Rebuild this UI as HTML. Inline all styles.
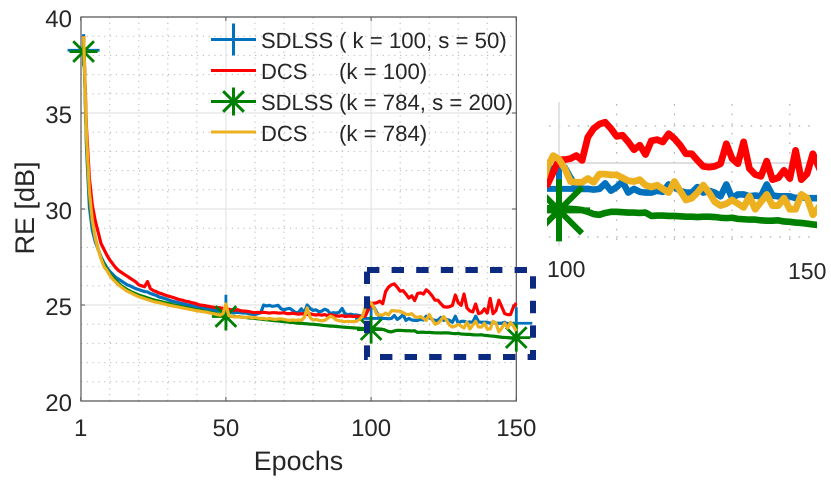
<!DOCTYPE html>
<html>
<head>
<meta charset="utf-8">
<style>
html,body{margin:0;padding:0;background:#fff;width:831px;height:484px;overflow:hidden}
svg{display:block}
text{font-family:"Liberation Sans",sans-serif;fill:#262626;text-rendering:geometricPrecision}
</style>
</head>
<body>
<svg id="chart" width="831" height="484" viewBox="0 0 831 484" xmlns="http://www.w3.org/2000/svg">
<defs>
<clipPath id="insetClip"><rect x="547" y="95" width="270" height="155"/></clipPath>
</defs>
<g id="mainGrid"></g>
<g id="mainAxes"></g>
<g id="mainSeries"></g>
<g id="legend">
<text x="261" y="48" font-size="22">SDLSS</text>
<text x="339" y="48" font-size="22.2">( k = 100, s = 50)</text>
<text x="261" y="79" font-size="22">DCS</text>
<text x="339" y="79" font-size="22.2">(k = 100)</text>
<text x="261" y="110" font-size="22">SDLSS</text>
<text x="339" y="110" font-size="22.2">(k = 784, s = 200)</text>
<text x="261" y="141" font-size="22">DCS</text>
<text x="339" y="141" font-size="22.2">(k = 784)</text>
</g>
<rect x="367" y="270" width="166" height="87" fill="none" stroke="#0b2a80" stroke-width="6" stroke-dasharray="12.4 12.2"/>
<g id="insetGrid"></g>
<g id="insetSeries" clip-path="url(#insetClip)"></g>
<text x="547" y="277" font-size="23">100</text>
<text x="788" y="279" font-size="23">150</text>
<text x="298.5" y="470" font-size="26.8" text-anchor="middle">Epochs</text>
<text transform="translate(34,208) rotate(-90)" font-size="27" text-anchor="middle">RE [dB]</text>
</svg>
<script>
const blueValues = [
39.1,33.2,30.1,28.9,28.3,27.9,27.5,27.2,26.95,26.75,
26.6,26.45,26.35,26.25,26.15,26.05,26,25.92,25.85,25.8,
25.75,25.7,25.68,25.6,25.55,25.5,25.42,25.38,25.33,25.28,
25.22,25.18,25.15,25.1,25.07,25.03,25,24.97,24.93,24.9,
24.88,24.84,24.82,24.8,24.77,24.74,24.72,24.7,24.68,24.65,
24.65,24.62,24.6,24.62,24.6,24.58,24.58,24.55,24.52,24.5,
24.55,24.6,25,24.95,24.98,24.93,24.95,24.98,24.8,24.75,
24.8,24.82,24.72,24.6,24.62,24.8,24.6,25,24.82,24.72,
24.75,24.65,24.68,24.78,24.72,24.55,24.6,24.58,24.62,24.82,
24.55,24.5,24.52,24.48,24.48,24.45,24.42,24.45,24.85,24.95,
24.88,24.6,24.35,24.3,24.3,24.28,24.3,24.45,24.25,24.35,
24.5,24.2,24.3,24.22,24.2,24.2,24.25,24.22,24.42,24.35,
24.25,24.2,24.2,24.35,24.2,24.25,24.2,24.1,24.42,24.05,
24.15,24.15,24.1,24.12,24.1,24.42,24.12,24.1,24.1,24.1,
24.05,24.08,24.05,24.05,24.05,24.1,24,24,24.05,24
];
const redValues = [
39,34.2,31.6,30.2,29.4,28.8,28.2,27.9,27.6,27.35,
27.15,26.95,26.8,26.7,26.6,26.5,26.4,26.3,26.2,26.05,
26,25.95,26.22,25.85,25.75,25.7,25.62,25.58,25.52,25.47,
25.43,25.38,25.33,25.28,25.25,25.2,25.18,25.13,25.1,25.05,
25,24.98,24.96,24.93,24.9,24.88,24.87,24.85,24.82,24.8,
24.78,24.75,24.72,24.76,24.7,24.68,24.68,24.65,24.62,24.6,
24.62,24.6,24.62,24.6,24.58,24.6,24.6,24.58,24.58,24.6,
24.55,24.55,24.57,24.55,24.52,24.55,24.52,24.5,24.55,24.5,
24.48,24.5,24.47,24.5,24.45,24.5,24.45,24.43,24.42,24.45,
24.4,24.42,24.42,24.4,24.42,24.4,24.4,24.42,24.75,25.09,
25.09,25.12,25.2,25.07,25.7,25.93,26.05,26.1,25.93,25.72,
25.75,25.57,25.36,25.48,25.23,25.6,25.63,25.57,25.79,25.66,
25.48,25.25,25.25,25.07,24.91,24.89,24.91,24.98,25.52,25.12,
24.98,25.57,24.85,24.69,24.64,25.05,24.55,24.6,24.8,24.58,
25.34,24.55,24.71,25.25,24.9,24.55,24.5,24.5,24.9,25.1
];
const greenValues = [
38.9,33.5,30.7,29.3,28.5,27.9,27.45,27.1,26.85,26.63,
26.45,26.28,26.13,26,25.9,25.8,25.72,25.65,25.58,25.52,
25.47,25.42,25.37,25.32,25.27,25.23,25.2,25.16,25.12,25.08,
25.04,25,24.97,24.94,24.9,24.87,24.84,24.81,24.78,24.75,
24.72,24.69,24.66,24.63,24.6,24.57,24.54,24.5,24.47,24.44,
24.43,24.42,24.4,24.39,24.38,24.36,24.35,24.33,24.31,24.3,
24.28,24.27,24.25,24.23,24.22,24.2,24.18,24.17,24.15,24.13,
24.12,24.1,24.09,24.07,24.05,24.05,24.03,24.02,24,24,
23.98,23.97,23.95,23.93,23.92,23.9,23.9,23.88,23.87,23.85,
23.84,23.83,23.82,23.81,23.8,23.79,23.78,23.78,23.77,23.77,
23.77,23.76,23.75,23.73,23.68,23.62,23.6,23.65,23.68,23.68,
23.67,23.66,23.66,23.65,23.66,23.57,23.58,23.58,23.57,23.57,
23.56,23.55,23.55,23.54,23.55,23.55,23.54,23.52,23.51,23.52,
23.49,23.48,23.47,23.47,23.45,23.44,23.44,23.45,23.42,23.41,
23.39,23.38,23.36,23.34,23.32,23.31,23.3,23.28,23.27,23.25
];
const yellowValues = [
39,33.8,30.9,29.4,28.5,27.9,27.4,27,26.8,26.55,
26.35,26.2,26.05,25.93,25.82,25.72,25.65,25.57,25.5,25.43,
25.38,25.33,25.28,25.23,25.18,25.15,25.12,25.08,25.04,25,
24.97,24.94,24.91,24.88,24.85,24.82,24.79,24.76,24.73,24.7,
24.68,24.65,24.63,24.6,24.57,24.54,24.5,24.47,24.55,25.05,
24.45,24.4,24.38,24.4,24.37,24.36,24.35,24.38,24.33,24.35,
24.32,24.3,24.3,24.27,24.3,24.27,24.25,24.27,24.28,24.25,
24.22,24.2,24.22,24.2,24.22,24.2,24.35,24.85,24.35,24.22,
24.25,24.2,24.18,24.2,24.3,24.42,24.35,24.22,24.18,24.15,
24.13,24.15,24.13,24.14,24.15,24.25,24.4,24.9,25.2,25.1,
24.85,24.5,24.48,24.48,24.58,24.48,24.7,24.7,24.68,24.68,
24.6,24.52,24.5,24.55,24.4,24.35,24.4,24.3,24.2,24.5,
24.25,24,24.05,24.2,24.4,24.2,23.95,23.85,23.9,24,
23.9,23.8,24.1,23.75,23.95,24.15,23.85,23.85,24.05,23.75,
23.75,24.15,24.05,23.6,23.8,24.05,23.8,24.1,23.9,23.65
];
const markerEpochs = [1, 50, 100, 150];
const blueMarkerValues = [38.27, 24.7, 24.3, 24.05];
const greenMarkerValues = [38.2, 24.4, 23.72, 23.3];
const xTickValues = [0, 50, 100, 150];
const xTickLabels = ["1", "50", "100", "150"];
const yTickValues = [20, 25, 30, 35, 40];
const yTickLabels = ["20", "25", "30", "35", "40"];
const xMinorValues = [10, 20, 30, 40, 60, 70, 80, 90, 110, 120, 130, 140];
const yMinorValues = [21, 22, 23, 24, 26, 27, 28, 29, 31, 32, 33, 34, 36, 37, 38, 39];
const insetXGrid = [110, 120, 130, 140];
const insetYMinor = [26, 23];

const NS = "http://www.w3.org/2000/svg";
const COLORS = { blue: "#0072bd", red: "#ff0000", green: "#008000", yellow: "#edb120" };

function xMain(e) { return 80.7 + 2.904 * e; }
function yMain(v) { return 401 - (v - 20) * 19.2; }
function xInset(e) { return 559 + 5.77 * (e - 100); }
function yInset(v) { return 163 - (v - 25) * 37; }

function make(tag, attrs, parent) {
  const el = document.createElementNS(NS, tag);
  for (const k in attrs) el.setAttribute(k, attrs[k]);
  parent.appendChild(el);
  return el;
}
function drawLine(parent, values, color, width, fx, fy, name) {
  let pts = [];
  for (let i = 0; i < values.length; i++) {
    pts.push(fx(i + 1).toFixed(2) + "," + fy(values[i]).toFixed(2));
  }
  const el = make("polyline", { points: pts.join(" "), fill: "none", stroke: color, "stroke-width": width, "stroke-linejoin": "round" }, parent);
  
  
}
function drawPlus(parent, cx, cy, r, color, width) {
  const p = "M" + (cx - r) + " " + cy + "H" + (cx + r) + "M" + cx + " " + (cy - r) + "V" + (cy + r);
  const el = make("path", { d: p, fill: "none", stroke: color, "stroke-width": width }, parent);
  
  
}
function drawStar(parent, cx, cy, r, color, width) {
  const d = r * 0.74;
  const p = "M" + (cx - r) + " " + cy + "H" + (cx + r) + "M" + cx + " " + (cy - r) + "V" + (cy + r) +
    "M" + (cx - d) + " " + (cy - d) + "L" + (cx + d) + " " + (cy + d) +
    "M" + (cx - d) + " " + (cy + d) + "L" + (cx + d) + " " + (cy - d);
  const el = make("path", { d: p, fill: "none", stroke: color, "stroke-width": width }, parent);
  
  
}

/* main grid */
const gGrid = document.getElementById("mainGrid");
xMinorValues.forEach(function (t) {
  const el = make("line", { x1: xMain(t), x2: xMain(t), y1: 17, y2: 401, stroke: "#b8b8b8", "stroke-width": 1, "stroke-dasharray": "1.2 4.6" }, gGrid);
  
  
});
yMinorValues.forEach(function (t) {
  const el = make("line", { x1: 81, x2: 516, y1: yMain(t), y2: yMain(t), stroke: "#b8b8b8", "stroke-width": 1, "stroke-dasharray": "1.2 4.6" }, gGrid);
  
  
});
[50, 100].forEach(function (t) {
  const el = make("line", { x1: xMain(t), x2: xMain(t), y1: 17, y2: 401, stroke: "#e4e4e4", "stroke-width": 1.2 }, gGrid);
  
  
});
[25, 30, 35].forEach(function (t) {
  const el = make("line", { x1: 81, x2: 516, y1: yMain(t), y2: yMain(t), stroke: "#e4e4e4", "stroke-width": 1.2 }, gGrid);
  
  
});

/* axes */
const gAxes = document.getElementById("mainAxes");
const frame = make("path", { d: "M81 17H516.3V401H81Z", fill: "none", stroke: "#555", "stroke-width": 1.2 }, gAxes);


xTickValues.forEach(function (t, i) {
  const x = xMain(t);
  const tick = make("path", { d: "M" + x + " 401v-4M" + x + " 17v4", stroke: "#555", "stroke-width": 1, fill: "none" }, gAxes);
  
  
  const label = make("text", { x: x, y: 436, "font-size": 24, "text-anchor": "middle" }, gAxes);
  
  
  label.textContent = xTickLabels[i];
});
yTickValues.forEach(function (t, i) {
  const y = yMain(t);
  const tick = make("path", { d: "M81 " + y + "h4M516 " + y + "h-4", stroke: "#555", "stroke-width": 1, fill: "none" }, gAxes);
  
  
  const label = make("text", { x: 72, y: y + 10, "font-size": 24, "text-anchor": "end" }, gAxes);
  
  
  label.textContent = yTickLabels[i];
});

/* main series */
const gSeries = document.getElementById("mainSeries");
drawLine(gSeries, blueValues, COLORS.blue, 3.2, xMain, yMain, "series-sdlss-k100");
markerEpochs.forEach(function (e, i) { drawPlus(gSeries, xMain(e), yMain(blueMarkerValues[i]), 16, COLORS.blue, 2.8); });
drawLine(gSeries, redValues, COLORS.red, 3.2, xMain, yMain, "series-dcs-k100");
drawLine(gSeries, greenValues, COLORS.green, 3.2, xMain, yMain, "series-sdlss-k784");
markerEpochs.forEach(function (e, i) { drawStar(gSeries, xMain(e), yMain(greenMarkerValues[i]), 14, COLORS.green, 2.8); });
drawLine(gSeries, yellowValues, COLORS.yellow, 3.2, xMain, yMain, "series-dcs-k784");

/* legend samples */
const gLegend = document.getElementById("legend");
function legendSwatch(y, color, name) {
  const el = make("line", { x1: 211, x2: 256, y1: y, y2: y, stroke: color, "stroke-width": 3 }, gLegend);
  
  
}
legendSwatch(39.5, COLORS.blue, "legend-swatch-sdlss-100");
drawPlus(gLegend, 233.5, 39.5, 16, COLORS.blue, 3);
legendSwatch(70.5, COLORS.red, "legend-swatch-dcs-100");
legendSwatch(101.5, COLORS.green, "legend-swatch-sdlss-784");
drawStar(gLegend, 233.5, 101.5, 14, COLORS.green, 3);
legendSwatch(132, COLORS.yellow, "legend-swatch-dcs-784");

/* inset */
const gIG = document.getElementById("insetGrid");
insetXGrid.forEach(function (t) {
  const el = make("line", { x1: xInset(t), x2: xInset(t), y1: 104, y2: 246, stroke: "#b0b0b0", "stroke-width": 1.2, "stroke-dasharray": "1.6 8" }, gIG);
  
  
});
insetYMinor.forEach(function (t) {
  const el = make("line", { x1: 549, x2: 817, y1: yInset(t), y2: yInset(t), stroke: "#b0b0b0", "stroke-width": 1.2, "stroke-dasharray": "1.6 8" }, gIG);
  
  
});
const gridV = make("line", { x1: xInset(100), x2: xInset(100), y1: 102, y2: 246, stroke: "#dcdcdc", "stroke-width": 1.5 }, gIG);


const gridH = make("line", { x1: 549, x2: 817, y1: yInset(25), y2: yInset(25), stroke: "#d4d4d4", "stroke-width": 1.5 }, gIG);



const gIS = document.getElementById("insetSeries");
drawLine(gIS, blueValues, COLORS.blue, 6.6, xInset, yInset, "inset-series-sdlss-k100");
drawPlus(gIS, xInset(100), yInset(blueMarkerValues[2]), 31, COLORS.blue, 6);
drawLine(gIS, redValues, COLORS.red, 6.8, xInset, yInset, "inset-series-dcs-k100");
drawLine(gIS, greenValues, COLORS.green, 6.6, xInset, yInset, "inset-series-sdlss-k784");
drawStar(gIS, xInset(100), yInset(greenMarkerValues[2]), 31, COLORS.green, 6);
drawLine(gIS, yellowValues, COLORS.yellow, 6.8, xInset, yInset, "inset-series-dcs-k784");
</script>
</body>
</html>
